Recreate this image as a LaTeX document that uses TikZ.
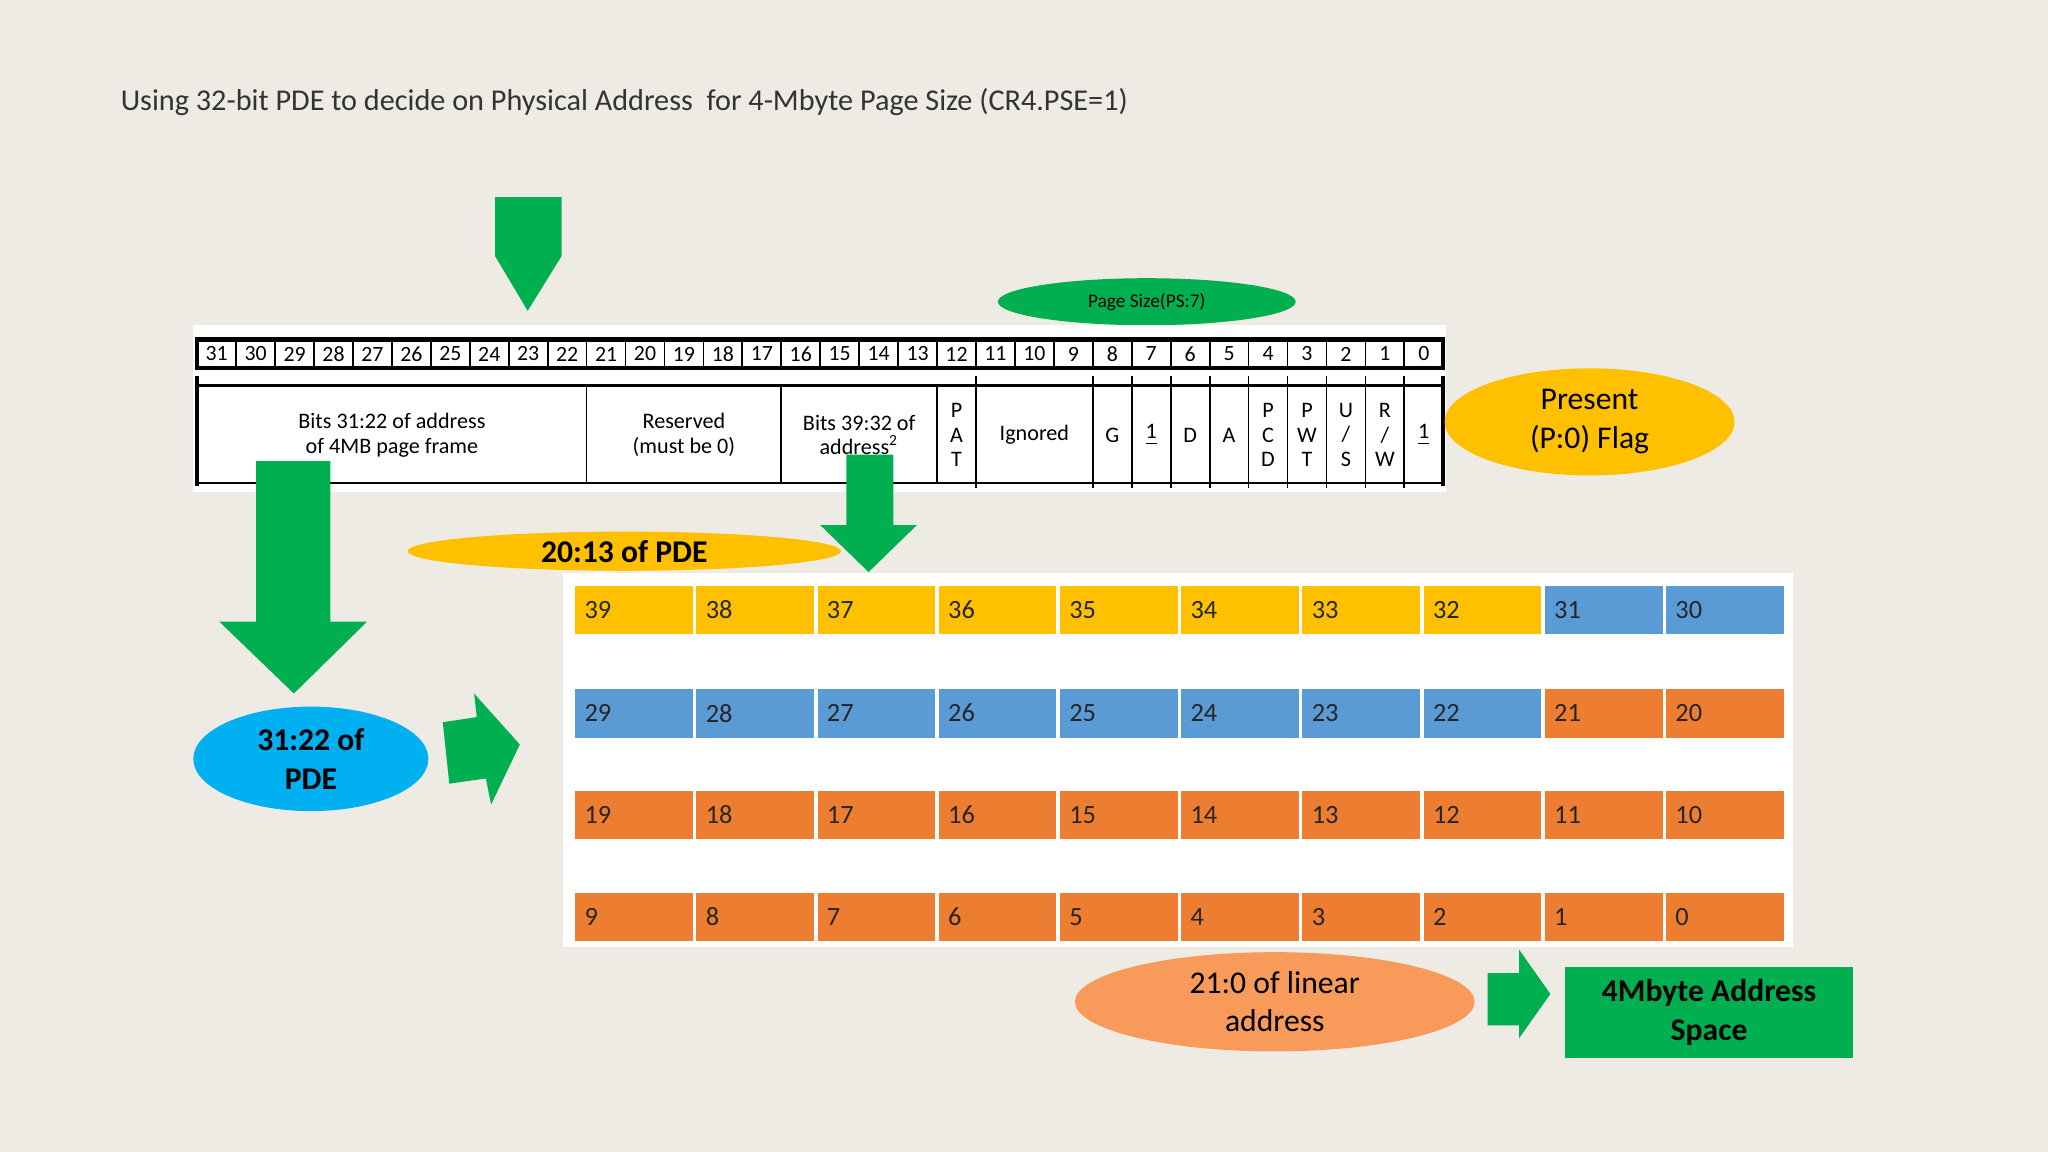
\documentclass[tikz,border=0pt]{standalone}
\usepackage{fontspec}
\setmainfont{Carlito}
\usetikzlibrary{shapes.geometric}
\definecolor{bg}{HTML}{EEEBE4}
\definecolor{grn}{HTML}{00B050}
\definecolor{yel}{HTML}{FFC000}
\definecolor{blu}{HTML}{5B9BD5}
\definecolor{org}{HTML}{ED7D31}
\definecolor{cyn}{HTML}{00B0F0}
\definecolor{lorg}{HTML}{F79A5A}
\begin{document}
\begin{tikzpicture}[x=0.013061cm,y=-0.013061cm,
  arr/.style={fill=grn,draw=none},
  ell/.style={ellipse,draw=none,inner sep=0pt},
  reg/.style={font=\fontsize{6.3}{7}\selectfont,align=center,inner sep=0pt},
  cellbox/.style={draw=white,line width=1pt,minimum width=92.8*0.013061cm,minimum height=40*0.013061cm,inner sep=0pt,text=black!85,font=\fontsize{7.5}{8}\selectfont}]
\fill[bg] (0,0) rectangle (1568,882);
\useasboundingbox (0,0) rectangle (1568,882);
\node[anchor=west,font=\fontsize{8.6}{10}\selectfont,text=black!80] (title) at (83,78) {Using 32-bit PDE to decide on Physical Address\ \ for 4-Mbyte Page Size (CR4.PSE=1)};
% top arrow
\fill[arr] (379,151) -- (430,151) -- (430,196) -- (404,238) -- (379,196) -- cycle;
% page size ellipse
\node[ell,fill=grn,minimum width=228*0.013061cm,minimum height=36*0.013061cm,font=\fontsize{5.5}{6}\selectfont] (ps) at (878,231) {Page Size(PS:7)};
% register panel
\fill[white] (148,249) rectangle (1107,377);
\draw[line width=1.2pt] (151,260) rectangle (1105,282);
\foreach \i in {0,...,31}{
  \pgfmathtruncatemacro{\b}{31-\i}
  \node[reg,font=\fontsize{6.2}{7}\selectfont] (n\b) at ({151+(\i+0.5)*29.8125},271) {\b};
  \ifnum\i>0 \draw[line width=0.5pt] ({151+\i*29.8125},260) -- ({151+\i*29.8125},282);\fi
}
\draw[line width=1.2pt] (151,288) -- (151,372);
\draw[line width=1.2pt] (1105,288) -- (1105,372);
\draw[line width=1pt] (151,295) -- (1105,295);
\draw[line width=0.7pt] (151,370) -- (1105,370);
\foreach \i in {10,15,19,20,23,24,25,26,27,28,29,30,31}{
  \draw[line width=0.5pt] ({151+\i*29.8125},295) -- ({151+\i*29.8125},370);}
\foreach \i in {20,23,24,25,26,27,28,29,30,31}{
  \draw[line width=0.5pt] ({151+\i*29.8125},288) -- ({151+\i*29.8125},295);
  \draw[line width=0.5pt] ({151+\i*29.8125},370) -- ({151+\i*29.8125},374);}
\newcommand{\fx}[2]{({151+(#1)*29.8125},333)}
\node[reg] (f1) at \fx{5}{} {Bits 31:22 of address\\of 4MB page frame};
\node[reg] (f2) at \fx{12.5}{} {Reserved\\(must be 0)};
\node[reg] (f3) at \fx{17}{} {Bits 39:32 of\\address\textsuperscript{2}};
\node[reg] (f4) at \fx{19.5}{} {P\\A\\T};
\node[reg] (f5) at \fx{21.5}{} {Ignored};
\node[reg] (f6) at \fx{23.5}{} {G};
\node[reg] (f7) at \fx{24.5}{} {\underline{1}};
\node[reg] (f8) at \fx{25.5}{} {D};
\node[reg] (f9) at \fx{26.5}{} {A};
\node[reg] (f10) at \fx{27.5}{} {P\\C\\D};
\node[reg] (f11) at \fx{28.5}{} {P\\W\\T};
\node[reg] (f12) at \fx{29.5}{} {U\\/\\S};
\node[reg] (f13) at \fx{30.5}{} {R\\/\\W};
\node[reg] (f14) at \fx{31.5}{} {\underline{1}};
% present ellipse
\node[ell,fill=yel,minimum width=222*0.013061cm,minimum height=82*0.013061cm,align=center,font=\fontsize{9}{11}\selectfont] (pf) at (1217,323) {Present\\(P:0) Flag};
% arrows
\fill[arr] (196,353) -- (253,353) -- (253,476) -- (281,476) -- (225,531) -- (168,476) -- (196,476) -- cycle;
\fill[arr] (648,348) -- (684,348) -- (684,402) -- (702,402) -- (665,438) -- (628,402) -- (648,402) -- cycle;
\node[ell,fill=yel,minimum width=332*0.013061cm,minimum height=30*0.013061cm,font=\bfseries\fontsize{9}{10}\selectfont] (e2013) at (478,422) {20:13 of PDE};
% grid
\fill[white] (431,439) rectangle (1373,725);
\foreach \r/\y in {0/467,1/546,2/624,3/702}{
  \foreach \c in {0,...,9}{
    \pgfmathtruncatemacro{\v}{39-\r*10-\c}
    \pgfmathsetmacro{\colr}{\v>31 ? 1 : (\v>21 ? 2 : 3)}
    \ifcase\numexpr\ifnum\v>31 1\else\ifnum\v>21 2\else 3\fi\fi\relax
    \or\def\cc{yel}\or\def\cc{blu}\or\def\cc{org}\fi
    \node[cellbox,fill=\cc] (g\v) at ({439+(\c+0.5)*92.8},\y) {};
    \node[anchor=west,inner sep=0pt,font=\fontsize{7.5}{8}\selectfont,text=black!85] (t\v) at ({439+\c*92.8+8},\y) {\v};
  }}
\node[ell,fill=cyn,minimum width=180*0.013061cm,minimum height=80*0.013061cm,align=center,font=\bfseries\fontsize{9}{11}\selectfont] (e3122) at (238,581) {31:22 of\\PDE};
\fill[arr] (339,553) -- (365,549) -- (363,531) -- (398,570) -- (376,616) -- (372,596) -- (344,600) -- cycle;
\node[ell,fill=lorg,minimum width=306*0.013061cm,minimum height=76*0.013061cm,align=center,font=\fontsize{9}{11}\selectfont] (lin) at (976,767) {21:0 of linear\\address};
\fill[arr] (1139,745) -- (1163,745) -- (1163,727) -- (1187,761) -- (1163,795) -- (1163,785) -- (1139,785) -- cycle;
\node[fill=grn,minimum width=221*0.013061cm,minimum height=70*0.013061cm,align=center,inner sep=0pt,font=\bfseries\fontsize{9}{11}\selectfont] (sp) at (1308.5,775) {4Mbyte Address\\Space};
\end{tikzpicture}
\end{document}
